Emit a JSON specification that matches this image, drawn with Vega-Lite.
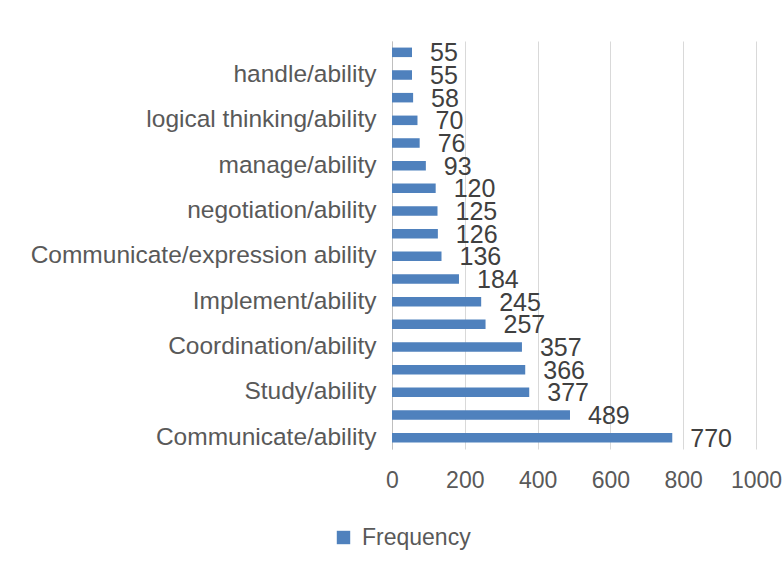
{
  "$schema": "https://vega.github.io/schema/vega-lite/v6.json",
  "width": 364,
  "height": 408,
  "autosize": {"type": "none"},
  "padding": {"left": 392, "top": 41, "right": 28, "bottom": 118},
  "background": "white",
  "config": {
    "font": "Liberation Sans",
    "view": {"stroke": null},
    "axis": {"labelFont": "Liberation Sans", "labelColor": "#595959"}
  },
  "data": {
    "values": [
      {"order": 1, "category": "(unlabelled 1)", "Frequency": 55, "series": "Frequency"},
      {"order": 2, "category": "handle/ability", "Frequency": 55, "series": "Frequency"},
      {"order": 3, "category": "(unlabelled 2)", "Frequency": 58, "series": "Frequency"},
      {"order": 4, "category": "logical thinking/ability", "Frequency": 70, "series": "Frequency"},
      {"order": 5, "category": "(unlabelled 3)", "Frequency": 76, "series": "Frequency"},
      {"order": 6, "category": "manage/ability", "Frequency": 93, "series": "Frequency"},
      {"order": 7, "category": "(unlabelled 4)", "Frequency": 120, "series": "Frequency"},
      {"order": 8, "category": "negotiation/ability", "Frequency": 125, "series": "Frequency"},
      {"order": 9, "category": "(unlabelled 5)", "Frequency": 126, "series": "Frequency"},
      {"order": 10, "category": "Communicate/expression ability", "Frequency": 136, "series": "Frequency"},
      {"order": 11, "category": "(unlabelled 6)", "Frequency": 184, "series": "Frequency"},
      {"order": 12, "category": "Implement/ability", "Frequency": 245, "series": "Frequency"},
      {"order": 13, "category": "(unlabelled 7)", "Frequency": 257, "series": "Frequency"},
      {"order": 14, "category": "Coordination/ability", "Frequency": 357, "series": "Frequency"},
      {"order": 15, "category": "(unlabelled 8)", "Frequency": 366, "series": "Frequency"},
      {"order": 16, "category": "Study/ability", "Frequency": 377, "series": "Frequency"},
      {"order": 17, "category": "(unlabelled 9)", "Frequency": 489, "series": "Frequency"},
      {"order": 18, "category": "Communicate/ability", "Frequency": 770, "series": "Frequency"}
    ]
  },
  "encoding": {
    "y": {
      "field": "category",
      "type": "nominal",
      "sort": {"field": "order", "order": "ascending"},
      "scale": {"paddingInner": 0.58, "paddingOuter": 0.29},
      "axis": {
        "title": null,
        "ticks": false,
        "grid": false,
        "domain": true,
        "domainColor": "#bfbfbf",
        "domainWidth": 1,
        "labelFontSize": 24.5,
        "labelPadding": 16,
        "labelLimit": 400,
        "labelExpr": "indexof(datum.value, '(') == 0 ? '' : datum.value"
      }
    },
    "x": {
      "field": "Frequency",
      "type": "quantitative",
      "scale": {"domain": [0, 1000], "nice": false},
      "axis": {
        "title": null,
        "values": [0, 200, 400, 600, 800, 1000],
        "format": "d",
        "ticks": false,
        "domain": false,
        "grid": true,
        "gridColor": "#d9d9d9",
        "gridWidth": 1,
        "labelFontSize": 23,
        "labelPadding": 20,
        "labelFlush": false
      }
    }
  },
  "layer": [
    {
      "mark": {"type": "bar"},
      "encoding": {
        "color": {
          "field": "series",
          "type": "nominal",
          "scale": {"range": ["#4F81BD"]},
          "legend": {
            "title": null,
            "orient": "none",
            "legendX": -60,
            "legendY": 485,
            "symbolType": "square",
            "symbolSize": 180,
            "symbolStrokeWidth": 0,
            "labelFontSize": 23,
            "labelColor": "#595959",
            "labelFont": "Liberation Sans",
            "labelOffset": 7
          }
        }
      }
    },
    {
      "mark": {"type": "text", "align": "left", "baseline": "middle", "dx": 18, "dy": 1, "fontSize": 25, "color": "#404040"},
      "encoding": {
        "text": {"field": "Frequency", "type": "quantitative"}
      }
    }
  ]
}
